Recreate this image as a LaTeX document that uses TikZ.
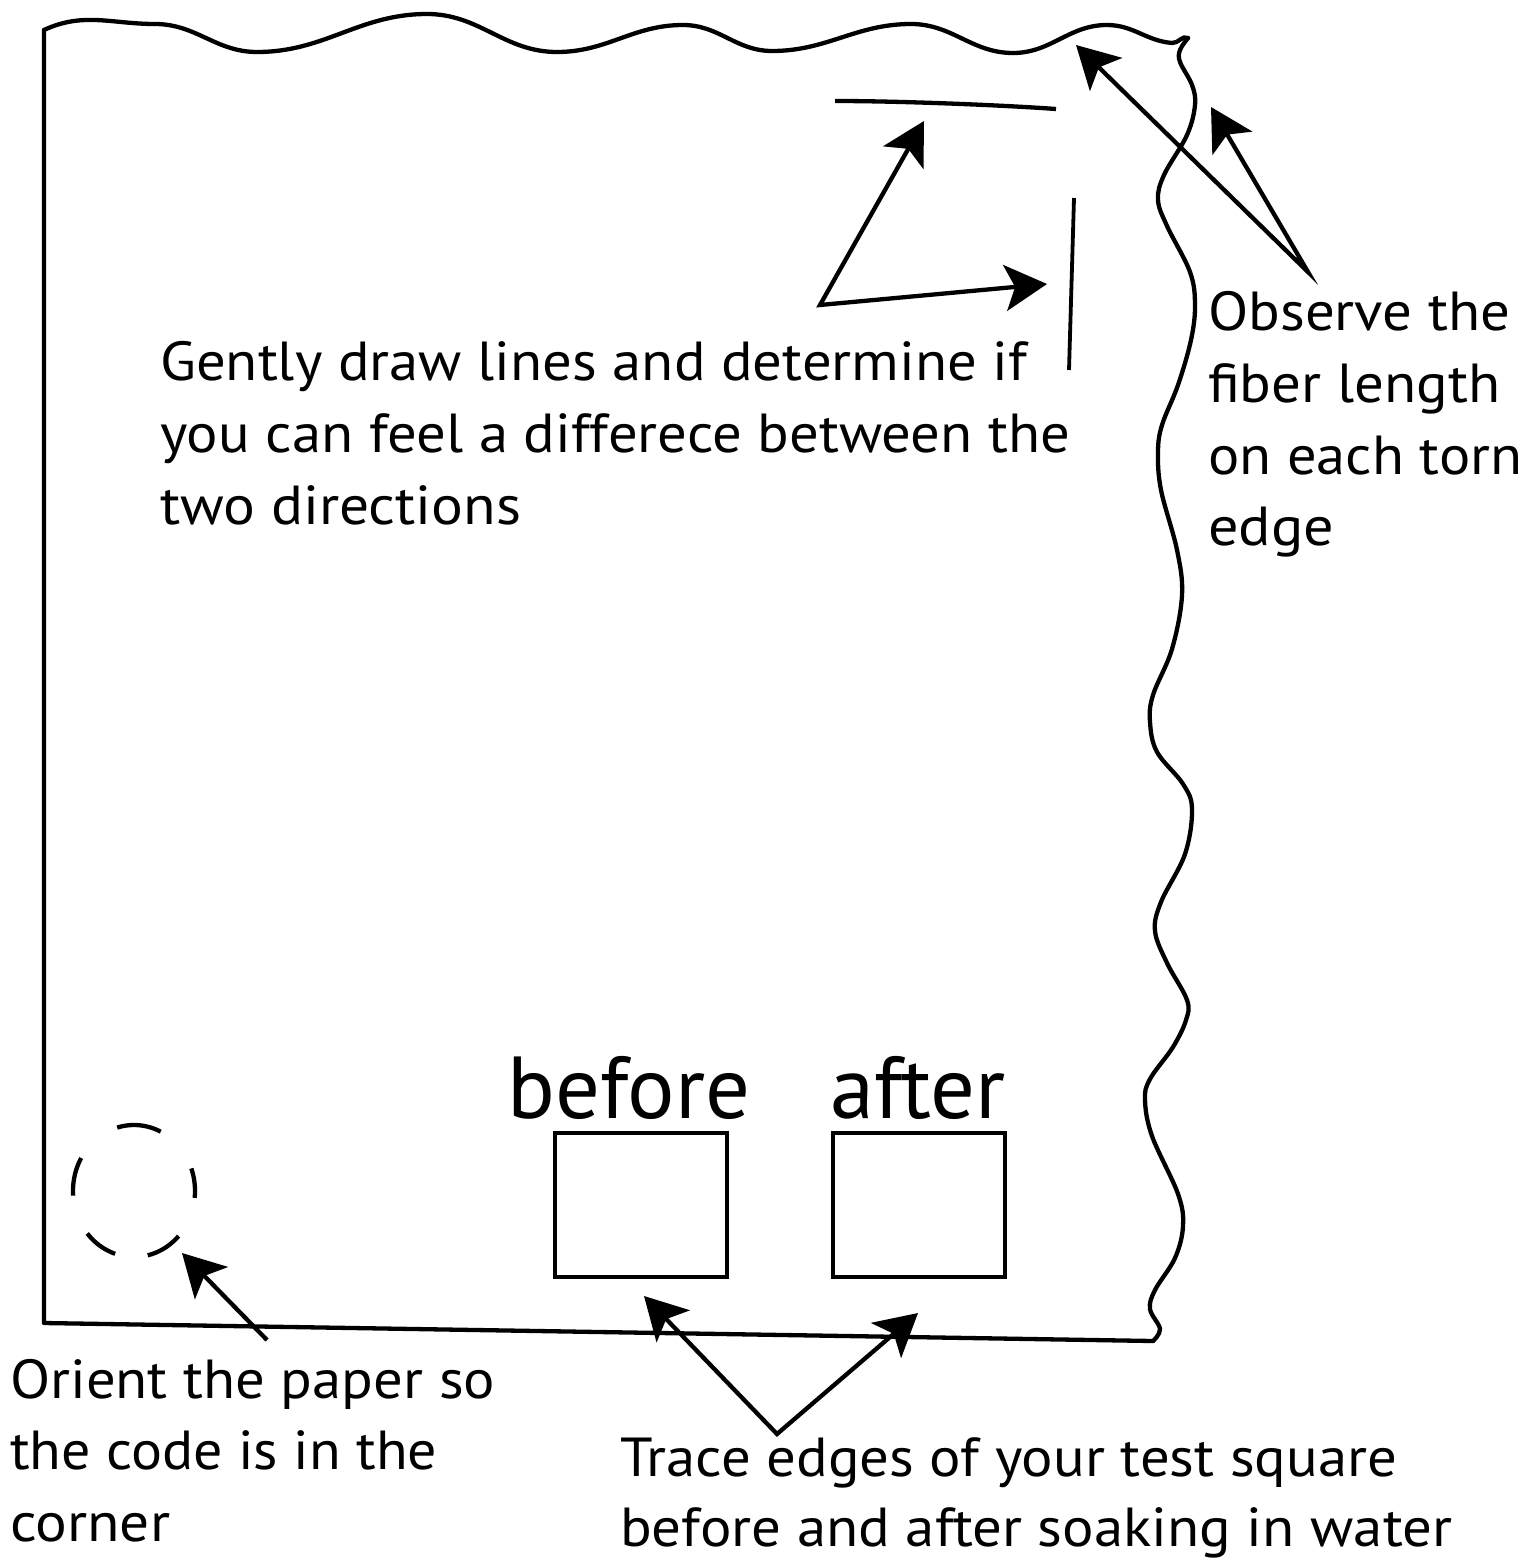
\documentclass[tikz,border=0pt]{standalone}
\usepackage{fontspec}
\setmainfont{PT Sans}
\usepackage{graphicx}
\usetikzlibrary{arrows.meta}
\newcommand\fitw[2]{\resizebox{#1}{\height}{#2}}
\begin{document}
\begin{tikzpicture}[x=1pt,y=-1pt,
  >={Stealth[length=42pt,width=46pt,inset=10pt]},
  edge/.style={line width=4.3pt, line join=round, line cap=round},
  arr/.style={line width=4.3pt},
  markline/.style={line width=4.3pt},
  sq/.style={draw, line width=4.3pt, minimum width=172pt, minimum height=144pt, inner sep=0pt, outer sep=0pt},
  txt/.style={font=\fontsize{55}{66}\selectfont, inner sep=0pt, anchor=base west},
  big/.style={font=\fontsize{88}{100}\selectfont, inner sep=0pt, anchor=base west},
  dashseg/.style={line width=4.3pt}
]
\fill[white] (0,0) rectangle (1532,1560);
\useasboundingbox (0,0) rectangle (1532,1560);

% paper outline: straight left and bottom edges
\draw[edge] (1153,1341) -- (44,1323) -- (44,30);
% torn top edge
\draw[edge] (44,30) to[out=25,in=180] (155,24)
  to[out=0,in=180] (257,52) to[out=0,in=180] (427,14)
  to[out=0,in=180] (557,52) to[out=0,in=180] (683,25)
  to[out=0,in=180] (772,51) to[out=0,in=180] (911,24)
  to[out=0,in=180] (1013,53) to[out=0,in=180] (1107,25)
  to[out=0,in=175] (1172,43) to[out=-5,in=150] (1188,38);
% torn right edge
\draw[edge] plot[smooth, tension=0.6] coordinates {
  (1188,38) (1180,50) (1180,62) (1192,85) (1195,105) (1187,135)
  (1164,175) (1158,200) (1167,226) (1190,272) (1195,305) (1191,340)
  (1178,385) (1162,425) (1158,452) (1161,490) (1177,550) (1182,595)
  (1172,649) (1153,695) (1150,722) (1157,752) (1183,784) (1192,809)
  (1185,854) (1161,902) (1155,931) (1167,963) (1187,1000) (1186,1020)
  (1173,1047) (1150,1079) (1145,1100) (1152,1136) (1178,1194) (1183,1226)
  (1175,1258) (1155,1290) (1150,1309) (1160,1329) (1153,1341)};

% drawn test lines
\draw[markline] (835,101) .. controls (900,101) and (1000,105) .. (1056,109);
\draw[line width=3.8pt] (1074,198) -- (1069,370);

% test squares
\node[sq] (sqb) at (641,1205) {};
\node[sq] (sqa) at (919,1205) {};
\node[big] (lb) at (507,1118) {\fitw{243pt}{before}};
\node[big] (la) at (830,1118) {\fitw{175pt}{after}};

% dashed circle (code)
\foreach \a/\b in {-106/-64, -20/6, 43/77, 108/140, 176/210}{
  \draw[dashseg] plot[domain=\a:\b, samples=24, smooth] ({134+61*cos(\x)},{1191+66*sin(\x)});
}

% texts
\node[txt] (g1) at (160,380) {\fitw{867pt}{Gently draw lines and determine if}};
\node[txt] (g2) at (160,452) {\fitw{910pt}{you can feel a differece between the}};
\node[txt] (g3) at (160,524) {\fitw{361pt}{two directions}};
\node[txt] (o1) at (1208,330) {\fitw{302pt}{Observe the}};
\node[txt] (o2) at (1208,402) {\fitw{292pt}{fiber length}};
\node[txt] (o3) at (1208,474) {\fitw{314pt}{on each torn}};
\node[txt] (o4) at (1208,545) {\fitw{126pt}{edge}};
\node[txt] (r1) at (10,1398) {\fitw{485pt}{Orient the paper so}};
\node[txt] (r2) at (10,1469) {\fitw{427pt}{the code is in the}};
\node[txt] (r3) at (10,1541) {\fitw{160pt}{corner}};
\node[txt] (t1) at (620,1476) {\fitw{777pt}{Trace edges of your test square}};
\node[txt] (t2) at (620,1546) {\fitw{832pt}{before and after soaking in water}};

% arrow anchor points
\coordinate (gs) at (820,305);
\coordinate (gt1) at (924,121);
\coordinate (gt2) at (1047,284);
\coordinate (os) at (1308,272);
\coordinate (ot1) at (1076,45);
\coordinate (ot2) at (1211,107);
\coordinate (rs) at (267,1340);
\coordinate (rt) at (182,1253);
\coordinate (ts) at (777,1434);
\coordinate (tt1) at (644,1296);
\coordinate (tt2) at (918,1313);

% arrows
\draw[arr,<->] (gt1) -- (gs) -- (gt2);
\draw[arr,<->] (ot1) -- (os) -- (ot2);
\draw[arr,->] (rs) -- (rt);
\draw[arr,<->] (tt1) -- (ts) -- (tt2);
\end{tikzpicture}
\end{document}
